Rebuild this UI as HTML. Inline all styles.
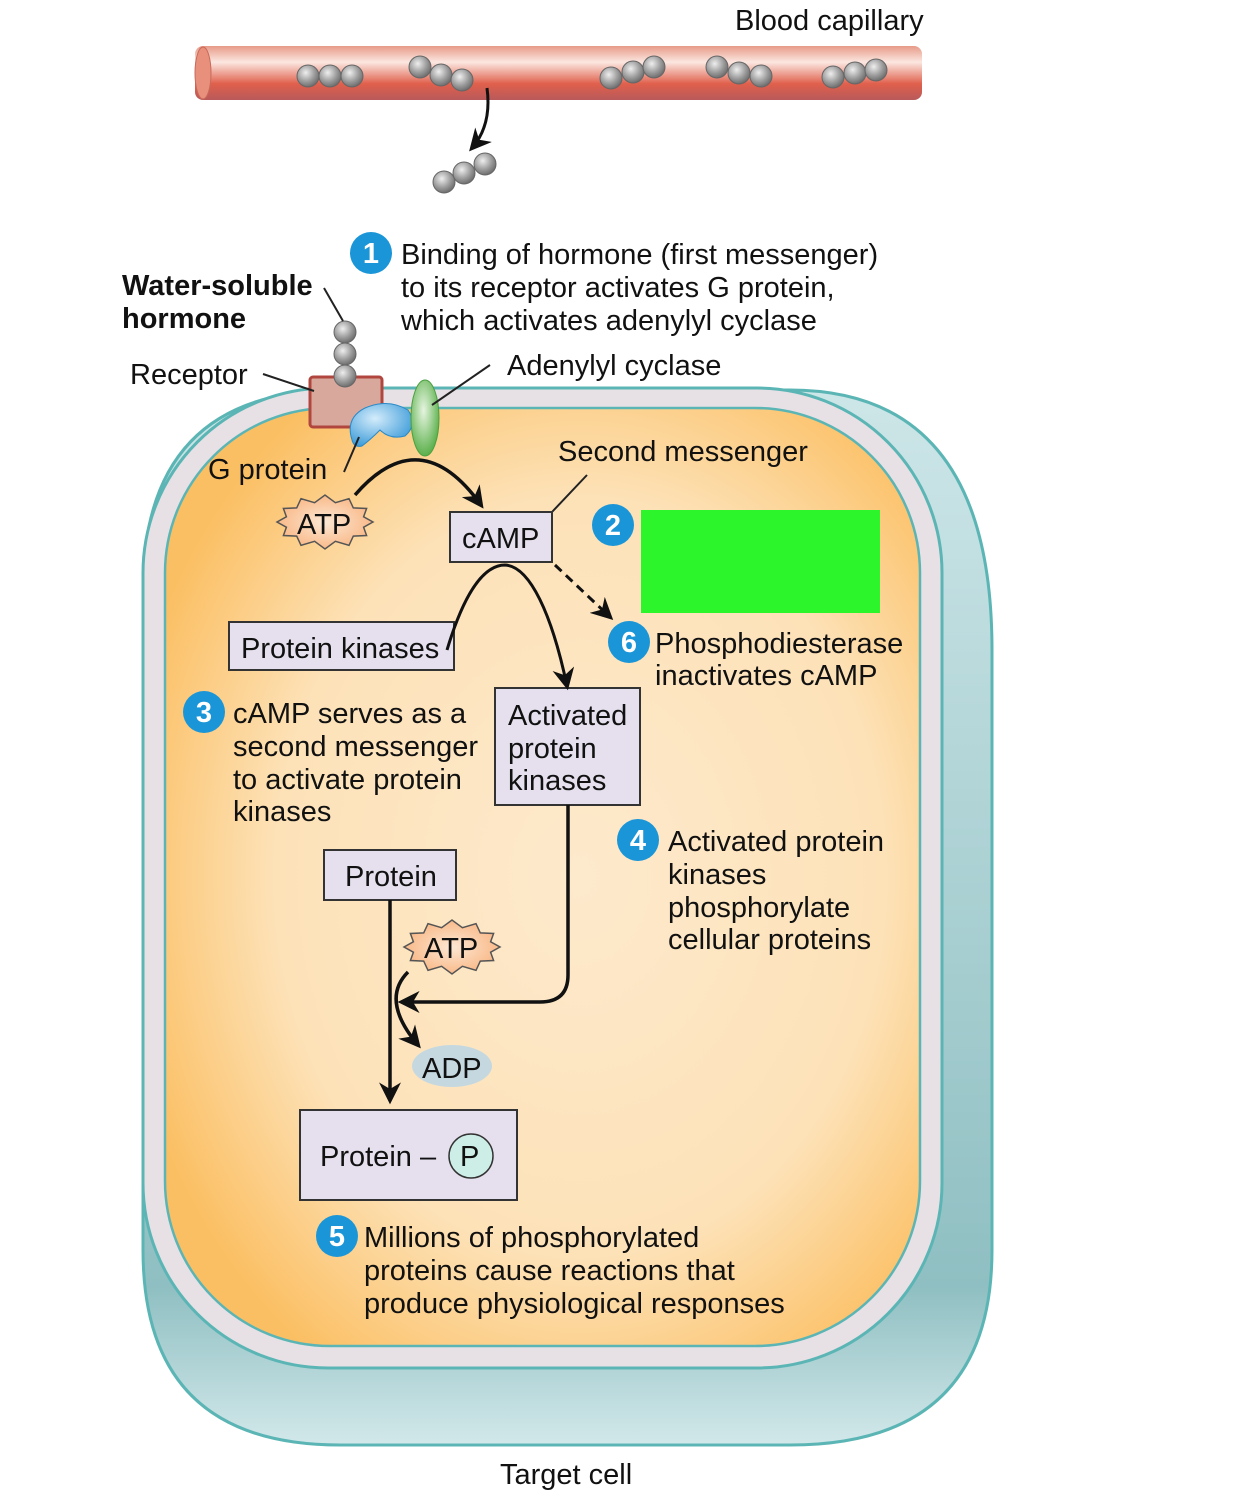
<!DOCTYPE html>
<html><head><meta charset="utf-8"><style>
html,body{margin:0;padding:0;background:#fff}
svg{display:block}
text{font-family:"Liberation Sans",Arial,sans-serif;font-size:29px;fill:#111}
</style></head><body>
<svg width="1242" height="1504" viewBox="0 0 1242 1504" xmlns="http://www.w3.org/2000/svg">
<defs>
<linearGradient id="cap" x1="0" y1="0" x2="0" y2="1">
<stop offset="0" stop-color="#e79a88"/><stop offset="0.3" stop-color="#fbe7e0"/><stop offset="0.7" stop-color="#e0604c"/><stop offset="1" stop-color="#b85a5a"/></linearGradient>
<radialGradient id="ball" cx="0.4" cy="0.35" r="0.7"><stop offset="0" stop-color="#eee"/><stop offset="0.6" stop-color="#999"/><stop offset="1" stop-color="#666"/></radialGradient>
<linearGradient id="back" x1="0" y1="0" x2="0" y2="1"><stop offset="0" stop-color="#cde6e8"/><stop offset="0.85" stop-color="#8fbfc2"/><stop offset="1" stop-color="#d2e8ea"/></linearGradient>
<radialGradient id="cyto" cx="0.55" cy="0.5" r="0.62"><stop offset="0" stop-color="#fde9cc"/><stop offset="0.65" stop-color="#fde2b8"/><stop offset="1" stop-color="#fbbf63"/></radialGradient>
<radialGradient id="atp" cx="0.5" cy="0.5" r="0.6"><stop offset="0" stop-color="#fde8d4"/><stop offset="1" stop-color="#f8b07a"/></radialGradient>
<radialGradient id="gp" cx="0.4" cy="0.35" r="0.7"><stop offset="0" stop-color="#d4ecfb"/><stop offset="1" stop-color="#3a9ad8"/></radialGradient>
<radialGradient id="ac" cx="0.45" cy="0.4" r="0.6"><stop offset="0" stop-color="#e6f5e0"/><stop offset="1" stop-color="#5cb04c"/></radialGradient>
<marker id="ahb" viewBox="0 0 10 10" refX="8" refY="5" markerWidth="22" markerHeight="22" markerUnits="userSpaceOnUse" orient="auto"><path d="M0,0 L10,5 L0,10 L3,5 Z" fill="#111"/></marker>
<polygon id="star" points="48,0 38.6,5.2 41.6,13.5 28.3,14.1 24,23.4 10.4,19.3 0,27 -10.4,19.3 -24,23.4 -28.3,14.1 -41.6,13.5 -38.6,5.2 -48,0 -38.6,-5.2 -41.6,-13.5 -28.3,-14.1 -24,-23.4 -10.4,-19.3 0,-27 10.4,-19.3 24,-23.4 28.3,-14.1 41.6,-13.5 38.6,-5.2" fill="url(#atp)" stroke="#555" stroke-width="1.5"/>
<circle id="b" r="11" fill="url(#ball)" stroke="#666" stroke-width="1"/>
</defs>

<rect x="195" y="46" width="727" height="54" rx="8" fill="url(#cap)"/>
<ellipse cx="203" cy="73" rx="8" ry="26" fill="#e8907c" stroke="#c86a5a"/>
<g>
<use href="#b" x="308" y="76"/><use href="#b" x="330" y="76"/><use href="#b" x="352" y="76"/>
<use href="#b" x="420" y="67"/><use href="#b" x="441" y="75"/><use href="#b" x="462" y="80"/>
<use href="#b" x="611" y="78"/><use href="#b" x="633" y="72"/><use href="#b" x="654" y="67"/>
<use href="#b" x="717" y="67"/><use href="#b" x="739" y="73"/><use href="#b" x="761" y="76"/>
<use href="#b" x="833" y="77"/><use href="#b" x="855" y="73"/><use href="#b" x="876" y="70"/>
<use href="#b" x="444" y="182"/><use href="#b" x="464" y="173"/><use href="#b" x="485" y="164"/>
</g>
<path d="M487,88 Q492,125 472,148" fill="none" stroke="#111" stroke-width="3" marker-end="url(#ahb)"/>
<text x="735" y="30">Blood capillary</text>

<path d="M340,390 L790,390 Q992,390 992,650 L992,1250 Q992,1445 790,1445 L340,1445 Q143,1445 143,1250 L143,590 Q143,390 340,390 Z" fill="url(#back)" stroke="#5cb5b5" stroke-width="3"/>
<rect x="143" y="388" width="799" height="980" rx="185" fill="#e7e1e5" stroke="#5cb5b5" stroke-width="3"/>
<rect x="165" y="408" width="755" height="938" rx="165" fill="url(#cyto)" stroke="#5cb5b5" stroke-width="2.5"/>

<rect x="310" y="377" width="72" height="50" rx="3" fill="#d9a89c" stroke="#b0463e" stroke-width="3"/>
<use href="#b" x="345" y="332"/><use href="#b" x="345" y="354"/><use href="#b" x="345" y="376"/>
<path d="M352,440 Q345,418 365,408 Q388,398 408,410 Q418,425 405,436 Q390,440 380,430 Q370,440 362,446 Q354,448 352,440 Z" fill="url(#gp)" stroke="#2a8ac8" stroke-width="1"/>
<ellipse cx="425" cy="418" rx="14" ry="38" fill="url(#ac)" stroke="#4aa040" stroke-width="1"/>

<g stroke="#222" stroke-width="2">
<line x1="324" y1="288" x2="343" y2="321"/>
<line x1="263" y1="374" x2="314" y2="391"/>
<line x1="490" y1="365" x2="432" y2="405"/>
<line x1="359" y1="437" x2="344" y2="472"/>
<line x1="587" y1="475" x2="552" y2="512"/>
</g>

<text x="122" y="295" style="font-weight:bold">Water-soluble</text>
<text x="122" y="328" style="font-weight:bold">hormone</text>
<text x="130" y="384">Receptor</text>
<text x="507" y="375">Adenylyl cyclase</text>
<text x="208" y="479">G protein</text>
<text x="558" y="461">Second messenger</text>

<g fill="#1a96d8">
<circle cx="371" cy="253" r="21"/><circle cx="613" cy="525" r="21"/><circle cx="204" cy="712" r="21"/>
<circle cx="638" cy="840" r="21"/><circle cx="337" cy="1236" r="21"/><circle cx="629" cy="642" r="21"/>
</g>
<g text-anchor="middle">
<text x="371" y="263" style="fill:#fff;font-weight:bold">1</text>
<text x="613" y="535" style="fill:#fff;font-weight:bold">2</text>
<text x="204" y="722" style="fill:#fff;font-weight:bold">3</text>
<text x="638" y="850" style="fill:#fff;font-weight:bold">4</text>
<text x="337" y="1246" style="fill:#fff;font-weight:bold">5</text>
<text x="629" y="652" style="fill:#fff;font-weight:bold">6</text>
</g>

<text x="401" y="264">Binding of hormone (first messenger)</text>
<text x="401" y="297">to its receptor activates G protein,</text>
<text x="401" y="330">which activates adenylyl cyclase</text>

<rect x="641" y="510" width="239" height="103" fill="#2cf52c"/>

<use href="#star" x="325" y="522"/>
<text x="297" y="534">ATP</text>
<path d="M355,495 Q420,420 481,505" fill="none" stroke="#111" stroke-width="3.5" marker-end="url(#ahb)"/>

<g fill="#e6e0ee" stroke="#333" stroke-width="2">
<rect x="450" y="512" width="102" height="50"/>
<rect x="229" y="622" width="225" height="48"/>
<rect x="495" y="688" width="145" height="117"/>
<rect x="324" y="850" width="132" height="50"/>
<rect x="300" y="1110" width="217" height="90"/>
</g>
<text x="462" y="548">cAMP</text>
<text x="241" y="658">Protein kinases</text>
<text x="508" y="725">Activated</text>
<text x="508" y="758">protein</text>
<text x="508" y="790">kinases</text>
<text x="345" y="886">Protein</text>

<path d="M447,650 C465,590 485,565 505,565 C530,566 552,615 567,686" fill="none" stroke="#111" stroke-width="3" marker-end="url(#ahb)"/>
<path d="M555,565 L610,617" fill="none" stroke="#111" stroke-width="3" stroke-dasharray="9,6" marker-end="url(#ahb)"/>

<text x="655" y="653">Phosphodiesterase</text>
<text x="655" y="685">inactivates cAMP</text>

<text x="233" y="723">cAMP serves as a</text>
<text x="233" y="756">second messenger</text>
<text x="233" y="789">to activate protein</text>
<text x="233" y="821">kinases</text>

<text x="668" y="851">Activated protein</text>
<text x="668" y="884">kinases</text>
<text x="668" y="917">phosphorylate</text>
<text x="668" y="949">cellular proteins</text>

<use href="#star" x="452" y="947"/>
<text x="424" y="958">ATP</text>
<path d="M568,805 L568,975 Q568,1002 540,1002 L402,1002" fill="none" stroke="#111" stroke-width="3.5" marker-end="url(#ahb)"/>
<path d="M390,900 L390,1100" fill="none" stroke="#111" stroke-width="3.5" marker-end="url(#ahb)"/>
<path d="M408,972 Q380,1000 418,1045" fill="none" stroke="#111" stroke-width="3.5" marker-end="url(#ahb)"/>
<ellipse cx="452" cy="1066" rx="40" ry="21" fill="#c5d8e0"/>
<text x="422" y="1078">ADP</text>

<text x="320" y="1166">Protein –</text>
<circle cx="471" cy="1156" r="22" fill="#cdeee6" stroke="#333" stroke-width="1.5"/>
<text x="460" y="1166">P</text>

<text x="364" y="1247">Millions of phosphorylated</text>
<text x="364" y="1280">proteins cause reactions that</text>
<text x="364" y="1313">produce physiological responses</text>

<text x="500" y="1484">Target cell</text>
</svg>
</body></html>
